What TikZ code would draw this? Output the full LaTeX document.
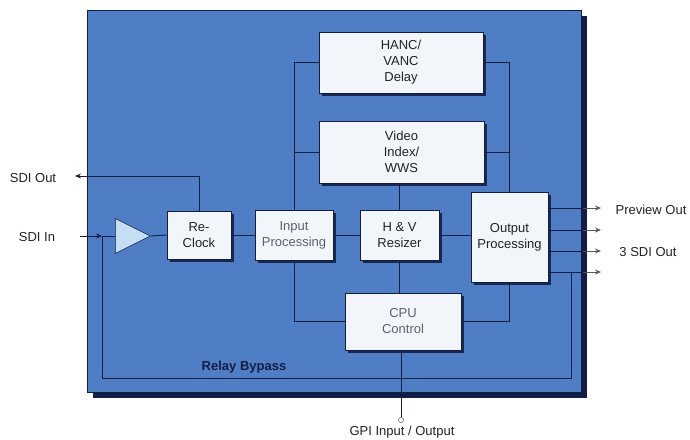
\documentclass[tikz,border=0pt]{standalone}
\usepackage{fontspec}
\setmainfont{Liberation Sans}
\usepackage{tikz}
\usetikzlibrary{arrows.meta,shapes.geometric,shadows,calc}
\usepackage{xcolor}

\definecolor{panelblue}{RGB}{80,126,196}
\definecolor{navy}{RGB}{18,30,72}
\definecolor{boxfill}{RGB}{242,246,251}
\definecolor{ampfill}{RGB}{196,222,244}
\definecolor{txt}{RGB}{34,34,40}
\definecolor{faded}{RGB}{92,96,108}

\tikzset{
  blk/.style={draw=navy, line width=0.6pt, fill=boxfill, align=center,
    text=txt, inner sep=0pt,
    drop shadow={shadow xshift=3pt, shadow yshift=-3pt, fill=navy, opacity=0.9}},
  wire/.style={draw=navy, line width=0.9pt},
  outpin/.style={draw=black!65, line width=0.9pt, -{Stealth[length=6pt,width=5pt]}},
  lbl/.style={text=txt, inner sep=0pt}
}

\begin{document}
\begin{tikzpicture}[x=1pt, y=-1pt, font=\fontsize{13}{16}\selectfont, >={Stealth[length=6pt,width=5pt]}]
  \useasboundingbox (0,0) rectangle (690,439);
  \fill[white] (0,0) rectangle (690,439);

  %% Board with dark shadow
  \fill[navy] (93,16) rectangle (587,398);
  \fill[panelblue] (87,10) rectangle (581,392);
  \draw[navy, line width=0.8pt] (87,10) rectangle (581,392);

  %% Blocks
  \node[blk, minimum width=164pt, minimum height=61pt] (hanc) at (401,62.5)
    {HANC/\\VANC\\Delay};
  \node[blk, minimum width=165pt, minimum height=62pt] (vidx) at (401.5,152)
    {Video\\Index/\\WWS};
  \node[blk, minimum width=64pt, minimum height=48pt] (reclk) at (199,235)
    {Re-\\Clock};
  \node[blk, minimum width=78pt, minimum height=50pt, text=faded] (inproc) at (294,235)
    {Input\\Processing};
  \node[blk, minimum width=79pt, minimum height=50pt] (hvres) at (399.5,235)
    {H \& V\\Resizer};
  \node[blk, minimum width=77pt, minimum height=90pt] (outproc) at (509.5,237)
    {Output\\Processing};
  \node[blk, minimum width=116pt, minimum height=57pt, text=faded] (cpu) at (403,321.5)
    {CPU\\Control};
  %% Input amplifier
  \node[isosceles triangle, isosceles triangle stretches, draw=navy,
        line width=0.6pt, fill=ampfill, minimum width=35pt, minimum height=35pt,
        inner sep=0pt, anchor=west] (amp) at (115,236) {};

  %% Ports
  \coordinate (inpin) at (80,236);
  \coordinate (tap) at (102,236);
  \coordinate (sdiout) at (75,176);
  \coordinate (bypcorner) at (571,378);
  \foreach \y [count=\i] in {208,230,251,272} {
    \coordinate (o\i) at (583,\y);
    \coordinate (t\i) at (601,\y);
  }

  %% Main video path
  \draw[wire, ->] (inpin) -- (tap);
  \draw[wire] (tap) -- (amp.west);
  \draw[wire] (amp.apex) -- (reclk.west);
  \draw[wire] (reclk.east) -- (inproc.west);
  \draw[wire] (inproc.east) -- (hvres.west);
  \draw[wire] (hvres.east) -- (outproc.west |- hvres.east);
  \draw[wire, ->] (reclk.north) |- (sdiout);

  %% Buses round the side blocks
  \draw[wire] (hanc.west) -| (inproc.north);
  \draw[wire] (vidx.west) -- (vidx.west -| inproc.north);
  \draw[wire] (inproc.south) |- (cpu.west);
  \draw[wire] (hanc.east) -| (outproc.north);
  \draw[wire] (vidx.east) -- (vidx.east -| outproc.north);
  \draw[wire] (outproc.south) |- (cpu.east);
  \draw[wire] (vidx.south -| hvres.north) -- (hvres.north);
  \draw[wire] (hvres.south) -- (hvres.south |- cpu.north);

  %% Outputs
  \foreach \i in {1,...,4} {
    \draw[wire] (outproc.east |- o\i) -- (o\i);
    \draw[outpin] (o\i) -- (t\i);
  }

  %% Relay bypass
  \draw[wire] (tap) |- (bypcorner) -- (bypcorner |- o4);

  %% GPI
  \node[circle, draw=black!60, fill=white, line width=0.6pt, inner sep=0pt,
        minimum size=5pt] (gpi) at (401,420) {};
  \draw[wire] (cpu.south -| gpi) -- (gpi.north);

  %% Labels
  \node[lbl] (lsdiout) at (33,178) {SDI Out};
  \node[lbl] (lsdiin) at (37,237) {SDI In};
  \node[lbl] (lprev) at (651,210) {Preview Out};
  \node[lbl] (l3sdi) at (648,252) {3 SDI Out};
  \node[lbl, font=\fontsize{13}{16}\selectfont\bfseries, text=navy] (lbyp) at (244,367) {Relay Bypass};
  \node[lbl] (lgpi) at (402,432) {GPI Input / Output};
\end{tikzpicture}
\end{document}
